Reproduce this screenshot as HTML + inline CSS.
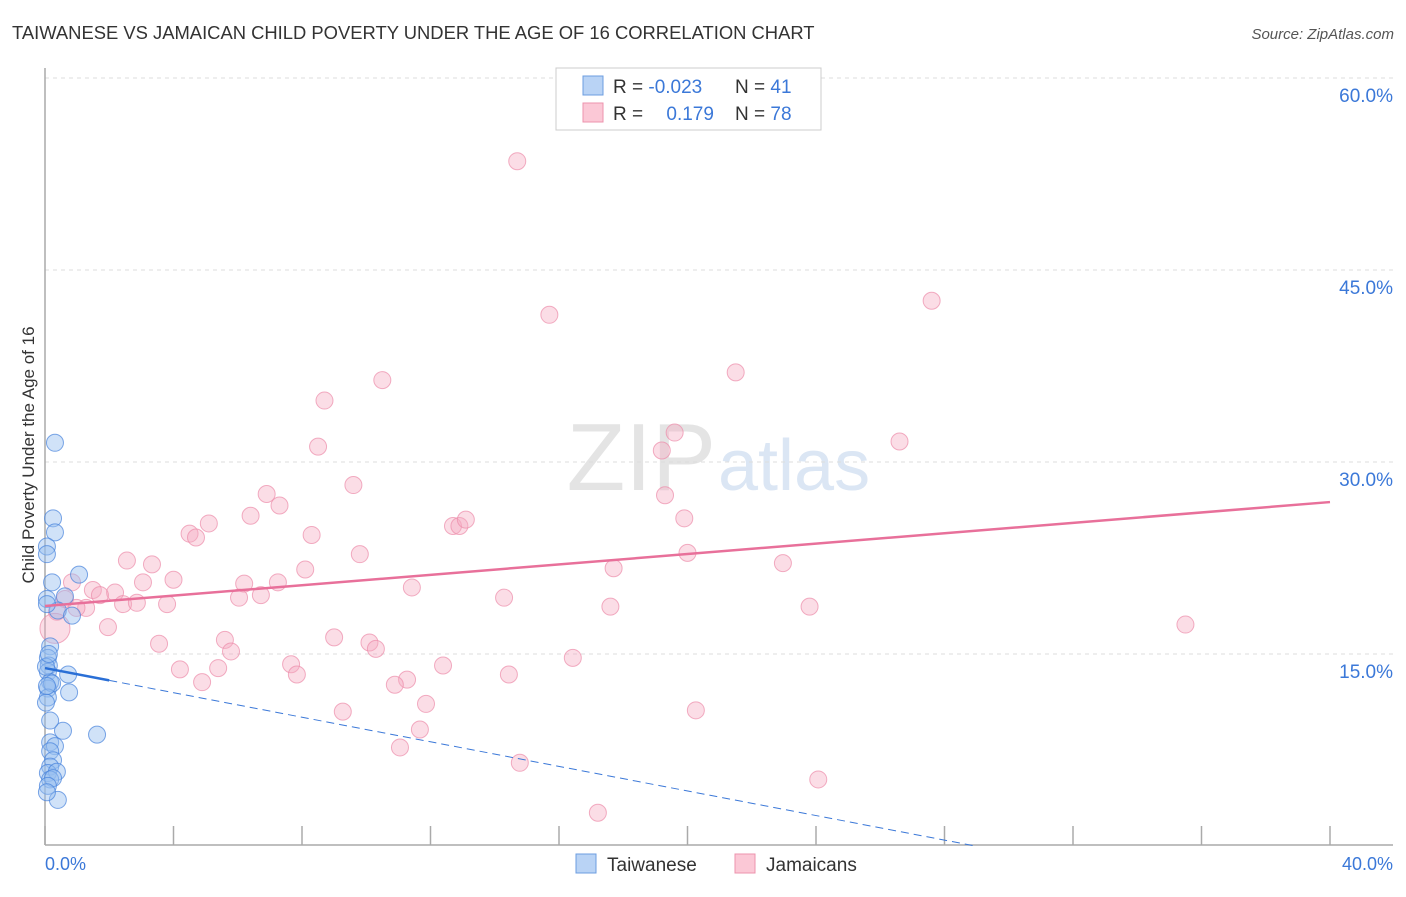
<!DOCTYPE html>
<html><head><meta charset="utf-8"><style>
body{margin:0;background:#fff;font-family:"Liberation Sans",sans-serif}
svg text{font-family:"Liberation Sans",sans-serif}
</style></head><body>
<svg width="1406" height="892" viewBox="0 0 1406 892">
<text x="12" y="39" font-size="18.4" fill="#333">TAIWANESE VS JAMAICAN CHILD POVERTY UNDER THE AGE OF 16 CORRELATION CHART</text>
<text x="1394" y="39" font-size="15" fill="#555" text-anchor="end" font-style="italic">Source: ZipAtlas.com</text>
<text x="716" y="490" font-size="96" fill="#e4e4e4" text-anchor="end" font-family="Liberation Serif">ZIP</text>
<text x="718" y="490" font-size="72" fill="#dbe6f4">atlas</text>
<g id="grid"></g>
<line x1="45" y1="68" x2="45" y2="845" stroke="#aaa" stroke-width="1.5"/>
<line x1="45" y1="845" x2="1393" y2="845" stroke="#aaa" stroke-width="1.5"/>
<g id="pts"></g>
<g id="lines"></g>
<text transform="translate(34,455) rotate(-90)" font-size="17" fill="#333" text-anchor="middle">Child Poverty Under the Age of 16</text>
<text x="45" y="870" font-size="18" fill="#3b78d8">0.0%</text>
<text x="1393" y="870" font-size="18" fill="#3b78d8" text-anchor="end">40.0%</text>
<g>
<rect x="556" y="68" width="265" height="62" fill="#fff" stroke="#ccc"/>
<rect x="583" y="76" width="20" height="19" fill="#b9d3f5" stroke="#6c9ee0"/>
<rect x="583" y="103" width="20" height="19" fill="#fbc8d6" stroke="#ec93ad"/>
<text x="613" y="93" font-size="19" fill="#333">R = <tspan fill="#3b78d8">-0.023</tspan></text>
<text x="735" y="93" font-size="19" fill="#333">N = <tspan fill="#3b78d8">41</tspan></text>
<text x="613" y="120" font-size="19" fill="#333">R = <tspan fill="#3b78d8" dx="18">0.179</tspan></text>
<text x="735" y="120" font-size="19" fill="#333">N = <tspan fill="#3b78d8">78</tspan></text>
</g>
<g>
<rect x="576" y="854" width="20" height="19" fill="#b9d3f5" stroke="#6c9ee0"/>
<text x="607" y="871" font-size="19" fill="#333">Taiwanese</text>
<rect x="735" y="854" width="20" height="19" fill="#fbc8d6" stroke="#ec93ad"/>
<text x="766" y="871" font-size="19" fill="#333">Jamaicans</text>
</g>
</svg>
<script>
const yTicks=[15,30,45,60];
const xTicks=[0,4,8,12,16,20,24,28,32,36,40];
const blueX=[0.31,0.25,0.31,0.06,0.06,0.22,1.06,0.06,0.62,0.40,0.84,0.06,0.16,0.09,0.12,0.09,0.72,0.16,0.75,0.09,0.22,0.09,0.03,0.56,1.62,0.16,0.31,0.16,0.25,0.16,0.09,0.37,0.16,0.25,0.40,0.09,0.06,0.16,0.03,0.12,0.06];
const blueY=[31.5,25.6,24.5,23.4,22.8,20.6,21.2,19.3,19.5,18.4,18.0,18.9,15.6,14.7,14.1,13.6,13.4,12.8,12.0,12.3,12.7,11.6,11.2,9.0,8.7,8.1,7.8,7.4,6.7,6.2,5.7,5.8,5.2,5.3,3.6,4.7,4.2,9.8,14.0,15.0,12.5];
const pinkX=[14.7,15.7,27.6,10.5,21.5,8.7,8.5,19.6,19.2,26.6,9.6,6.9,7.3,19.3,6.4,5.1,4.5,4.7,8.3,12.7,12.9,13.1,19.9,2.55,3.33,9.8,20.0,22.97,8.1,17.7,4.0,3.05,6.2,7.25,0.84,1.49,2.18,1.71,6.04,6.72,11.42,14.29,2.43,2.86,3.8,0.62,1.28,0.37,0.98,17.6,23.8,1.96,35.5,9.0,3.55,10.1,10.3,5.6,5.79,4.2,5.39,7.66,7.84,12.39,16.43,14.44,4.89,11.27,10.89,11.86,9.27,20.26,11.67,11.05,14.78,24.07,17.21,0.31];
const pinkY=[53.5,41.5,42.6,36.4,37.0,34.8,31.2,32.3,30.9,31.6,28.2,27.5,26.6,27.4,25.8,25.2,24.4,24.1,24.3,25.0,25.0,25.5,25.6,22.3,22.0,22.8,22.9,22.1,21.6,21.7,20.8,20.6,20.5,20.6,20.6,20.0,19.8,19.6,19.4,19.6,20.2,19.4,18.9,19.0,18.9,19.3,18.6,18.3,18.6,18.7,18.7,17.1,17.3,16.3,15.8,15.9,15.4,16.1,15.2,13.8,13.9,14.2,13.4,14.1,14.7,13.4,12.8,13.0,12.6,11.1,10.5,10.6,9.1,7.7,6.5,5.2,2.6,17.0];
const blueLine=[13.9,-0.48];
const pinkLine=[18.75,0.203];
const X=v=>45+v/40*1285, Y=v=>846-v/15*192;
const NS='http://www.w3.org/2000/svg';
const mk=(t,a,p)=>{const e=document.createElementNS(NS,t);for(const k in a)e.setAttribute(k,a[k]);p.appendChild(e);return e;};
const g=document.getElementById('grid');
yTicks.forEach(t=>{
 const l=mk('line',{x1:45,x2:1393,y1:Y(t),y2:Y(t),stroke:'#ddd','stroke-dasharray':'4,4'},g);
 
 
 const tx=mk('text',{x:1393,y:Y(t)+24,'font-size':19,fill:'#3b78d8','text-anchor':'end'},g);
 tx.textContent=t.toFixed(1)+'%';
 
 
});
xTicks.forEach(t=>{
 const l=mk('line',{x1:X(t),x2:X(t),y1:826,y2:845,stroke:'#aaa','stroke-width':1.5},g);
 
 
});
const p=document.getElementById('pts');
pinkX.forEach((x,i)=>{
 const c=mk('circle',{cx:X(x),cy:Y(pinkY[i]),r:i==pinkX.length-1?15:8.5,fill:'rgba(246,170,192,0.4)',stroke:'rgba(236,140,170,0.7)','stroke-width':1},p);
 
 
});
blueX.forEach((x,i)=>{
 const c=mk('circle',{cx:X(x),cy:Y(blueY[i]),r:8.5,fill:'rgba(150,190,240,0.45)',stroke:'rgba(70,130,220,0.7)','stroke-width':1},p);
 
 
});
const L=document.getElementById('lines');
let a=mk('line',{x1:X(0),y1:Y(pinkLine[0]),x2:X(40),y2:Y(pinkLine[0]+40*pinkLine[1]),stroke:'#e8709a','stroke-width':2.5},L);


const xEnd=-blueLine[0]/blueLine[1];
a=mk('line',{x1:X(2),y1:Y(blueLine[0]+2*blueLine[1]),x2:X(xEnd),y2:Y(0),stroke:'#3b78d8','stroke-width':1,'stroke-dasharray':'8,5'},L);


a=mk('line',{x1:X(0),y1:Y(blueLine[0]),x2:X(2),y2:Y(blueLine[0]+2*blueLine[1]),stroke:'#2a6fd6','stroke-width':2.5},L);


</script>
</body></html>
